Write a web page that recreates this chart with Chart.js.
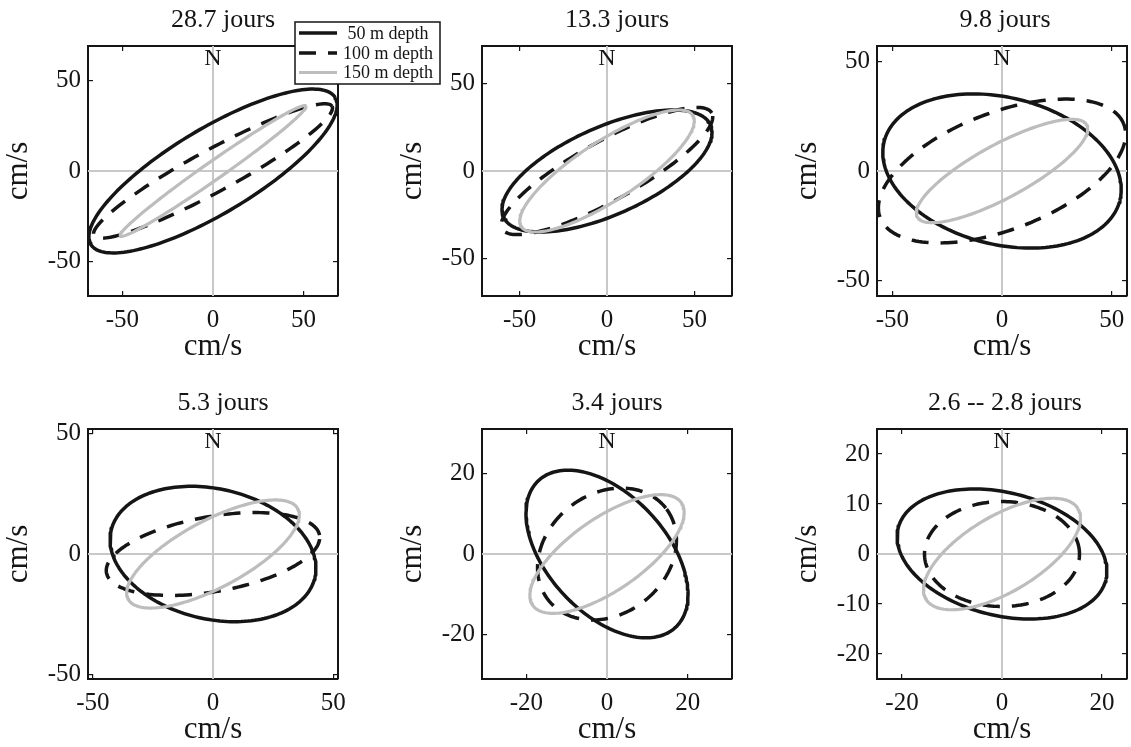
<!DOCTYPE html>
<html>
<head>
<meta charset="utf-8">
<script src="https://cdn.jsdelivr.net/npm/chart.js@4.4.1/dist/chart.umd.min.js"></script>
<style>
  html, body { margin: 0; padding: 0; background: #fff; overflow: hidden; }
  #wrap { position: relative; width: 1131px; height: 747px; }
  #wrap canvas { position: absolute; }
</style>
</head>
<body>
<div id="wrap"></div>
<script>
// frequency bands, one panel each
const periods = ['28.7 jours', '13.3 jours', '9.8 jours', '5.3 jours', '3.4 jours', '2.6 -- 2.8 jours'];
const axisLimits = [69, 71.5, 57, 52, 31, 25];
const xTicks = [[-50, 0, 50], [-50, 0, 50], [-50, 0, 50], [-50, 0, 50], [-20, 0, 20], [-20, 0, 20]];
const yTicks = [[-50, 0, 50], [-50, 0, 50], [-50, 0, 50], [-50, 0, 50], [-20, 0, 20], [-20, -10, 0, 10, 20]];

const depthLabels = ['50 m depth', '100 m depth', '150 m depth'];

// current ellipses: semi-major / semi-minor axis (cm/s), inclination (deg from east)
const major50  = [78.7, 64.8, 55.4, 43.5, 24.9, 21.4];
const minor50  = [23.4, 25.1, 33.5, 27.1, 14.7, 12.3];
const incl50   = [31, 24, -14, -13, -47, -14];
const major100 = [74.8, 68.5, 59.5, 45.0, 18.5, 15.5];
const minor100 = [11.6, 17.0, 26.7, 15.6, 14.9, 10.5];
const incl100  = [28.5, 29, 21, 10, 38, 0];
const major150 = [62.5, 58.5, 44.0, 40.0, 22.4, 17.7];
const minor150 = [5.0, 17.0, 12.2, 14.0, 9.0, 7.6];
const incl150  = [35, 33, 28.5, 28, 34.6, 30.7];

const SERIF = "'Liberation Serif', 'Times New Roman', serif";
const INK = '#151515';
const GREY_LINE = '#bdbdbd';
const GREY_AXIS = '#c8c8c8';

function ellipse(a, b, deg) {
  const th = deg * Math.PI / 180;
  const pts = [];
  for (let k = 0; k <= 180; k++) {
    const t = 2 * Math.PI * k / 180;
    const u = a * Math.cos(t), v = b * Math.sin(t);
    pts.push({ x: u * Math.cos(th) - v * Math.sin(th), y: u * Math.sin(th) + v * Math.cos(th) });
  }
  return pts;
}

// period title above the frame and "N" at the top of the north axis
const panelText = {
  id: 'panelText',
  afterDatasetsDraw(chart, args, opts) {
    const { ctx, chartArea } = chart;
    const x0 = chart.scales.x.getPixelForValue(0);
    ctx.save();
    ctx.fillStyle = INK;
    ctx.textAlign = 'center';
    ctx.textBaseline = 'alphabetic';
    ctx.font = '24px ' + SERIF;
    ctx.fillText('N', x0, chartArea.top + 19);
    ctx.font = '26px ' + SERIF;
    ctx.fillText(opts.text, (chartArea.left + chartArea.right) / 2 + opts.shift, chartArea.top - 19);
    ctx.restore();
  }
};

// boxed legend sitting over the top right corner of the first panel
const boxLegend = {
  id: 'boxLegend',
  afterDraw(chart) {
    const ctx = chart.ctx;
    const left = chart.chartArea.right - 43, top = chart.chartArea.top - 24;
    const w = 145, h = 62;
    ctx.save();
    ctx.fillStyle = '#fff';
    ctx.fillRect(left, top, w, h);
    ctx.strokeStyle = INK;
    ctx.lineWidth = 1.5;
    ctx.strokeRect(left, top, w, h);
    const rows = [11, 31, 50.5];
    chart.data.datasets.slice(0, 3).forEach((ds, i) => {
      const y = top + rows[i];
      ctx.beginPath();
      ctx.strokeStyle = ds.borderColor;
      ctx.lineWidth = ds.borderWidth;
      ctx.lineCap = 'butt';
      ctx.setLineDash(ds.borderDash || []);
      ctx.moveTo(left + 4, y);
      ctx.lineTo(left + 42, y);
      ctx.stroke();
      ctx.setLineDash([]);
      ctx.font = '18px ' + SERIF;
      ctx.fillStyle = INK;
      ctx.textAlign = 'center';
      ctx.textBaseline = 'middle';
      ctx.fillText(ds.label, left + 93, y + 1);
    });
    ctx.restore();
  }
};

const colLeft = [88, 482, 877];
const rowTop = [46, 429];
const titleShift = [10, 10, 3];
const PLOT = 250, LEFT_W = 88, TOP_H = 46, BOTTOM_H = 74;

function frameAxis(pos, R, values, labelled) {
  const horizontal = pos === 'top' || pos === 'bottom';
  const axis = {
    type: 'linear',
    position: pos,
    min: -R,
    max: R,
    ticks: {
      display: labelled,
      font: { family: SERIF, size: 25 },
      color: INK,
      padding: horizontal ? 14 : 12
    },
    afterBuildTicks(scale) {
      scale.ticks = values.map(v => ({ value: v }));
    },
    grid: { drawOnChartArea: false, tickLength: -5, color: INK, lineWidth: 1.2 },
    border: { display: true, color: INK, width: 2 },
    title: {
      display: labelled,
      text: 'cm/s',
      font: { family: SERIF, size: 31 },
      color: INK,
      padding: horizontal ? { top: 0, bottom: 5 } : { top: 0, bottom: 0 }
    },
    afterFit(scale) {
      if (pos === 'bottom') scale.height = BOTTOM_H;
      else if (pos === 'left') scale.width = LEFT_W;
      else if (horizontal) scale.height = 0;
      else scale.width = 0;
      scale.paddingLeft = scale.paddingRight = 0;
      scale.paddingTop = scale.paddingBottom = 0;
    }
  };
  if (!horizontal) axis.axis = 'y';
  return axis;
}

const wrap = document.getElementById('wrap');

periods.forEach((period, i) => {
  const col = i % 3, row = Math.floor(i / 3);
  const R = axisLimits[i];
  const rightPad = i === 0 ? 110 : 14;
  const cv = document.createElement('canvas');
  const w = LEFT_W + PLOT + rightPad, h = TOP_H + PLOT + BOTTOM_H;
  cv.width = w;
  cv.height = h;
  cv.style.left = (colLeft[col] - LEFT_W) + 'px';
  cv.style.top = (rowTop[row] - TOP_H) + 'px';
  cv.style.width = w + 'px';
  cv.style.height = h + 'px';
  cv.style.zIndex = i === 0 ? 5 : 1;
  wrap.appendChild(cv);

  const line = (label, data, color, dash, width, order) => ({
    label, data, order,
    borderColor: color,
    borderWidth: width,
    borderDash: dash,
    borderCapStyle: 'butt',
    borderJoinStyle: 'round',
    showLine: true,
    pointRadius: 0,
    pointHoverRadius: 0,
    tension: 0
  });

  new Chart(cv.getContext('2d'), {
    type: 'scatter',
    data: {
      datasets: [
        line(depthLabels[0], ellipse(major50[i], minor50[i], incl50[i]), INK, [], 3.5, 3),
        line(depthLabels[1], ellipse(major100[i], minor100[i], incl100[i]), INK, [17, 12], 3.5, 2),
        line(depthLabels[2], ellipse(major150[i], minor150[i], incl150[i]), GREY_LINE, [], 3.2, 1),
        line('N-S', [{ x: 0, y: -R }, { x: 0, y: R }], GREY_AXIS, [], 2, 4),
        line('E-W', [{ x: -R, y: 0 }, { x: R, y: 0 }], GREY_AXIS, [], 2, 4)
      ]
    },
    options: {
      responsive: false,
      devicePixelRatio: 1,
      animation: false,
      events: [],
      layout: { autoPadding: false, padding: { left: 0, top: TOP_H, right: rightPad, bottom: 0 } },
      plugins: {
        legend: { display: false },
        tooltip: { enabled: false },
        title: { display: false },
        panelText: { text: period, shift: titleShift[col] }
      },
      scales: {
        x: frameAxis('bottom', R, xTicks[i], true),
        x2: frameAxis('top', R, xTicks[i], false),
        y: frameAxis('left', R, yTicks[i], true),
        y2: frameAxis('right', R, yTicks[i], false)
      }
    },
    plugins: i === 0 ? [panelText, boxLegend] : [panelText]
  });
});
</script>
</body>
</html>
